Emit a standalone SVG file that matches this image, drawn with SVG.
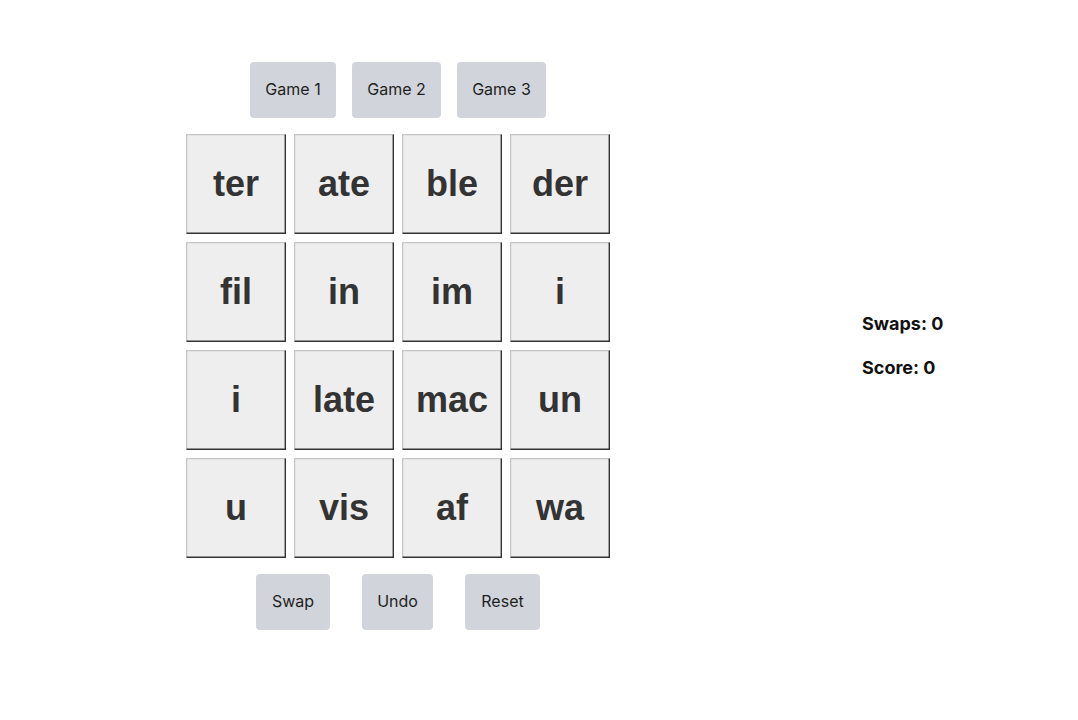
<svg xmlns="http://www.w3.org/2000/svg" width="1078" height="720" viewBox="0 0 1078 720">
<style>
.btn rect{fill:#d1d5db}
.btn text{font-family:Inter,"Liberation Sans",sans-serif;font-size:16px;fill:#1f1f1f;text-anchor:middle}
.tile text{font-family:"Liberation Sans",Arial,sans-serif;font-weight:bold;font-size:36px;fill:#333;text-anchor:middle}
.stat{font-family:Inter,"Liberation Sans",sans-serif;font-weight:bold;font-size:18px;fill:#111}
</style>
<rect width="1078" height="720" fill="#fff"/>
<g id="game1" class="btn"><rect x="250" y="62" width="86" height="56" rx="4"/><text x="293" y="95">Game 1</text></g>
<g id="game2" class="btn"><rect x="352" y="62" width="89" height="56" rx="4"/><text x="396.5" y="95">Game 2</text></g>
<g id="game3" class="btn"><rect x="457" y="62" width="89" height="56" rx="4"/><text x="501.5" y="95">Game 3</text></g>

<defs>
<g id="tileShape">
<rect x="0" y="0" width="100" height="100" fill="#eeeeee"/>
<path d="M0.6,99.5 V0.6 H99.5" stroke="#c4c4c4" stroke-width="1.2" fill="none"/>
<path d="M0.6,99.3 H99.3 V0.6" stroke="#333333" stroke-width="1.4" fill="none"/>
</g>
</defs>

<g id="t11" class="tile" transform="translate(186,134)"><use href="#tileShape"/><text x="50" y="62">ter</text></g>
<g id="t12" class="tile" transform="translate(294,134)"><use href="#tileShape"/><text x="50" y="62">ate</text></g>
<g id="t13" class="tile" transform="translate(402,134)"><use href="#tileShape"/><text x="50" y="62">ble</text></g>
<g id="t14" class="tile" transform="translate(510,134)"><use href="#tileShape"/><text x="50" y="62">der</text></g>

<g id="t21" class="tile" transform="translate(186,242)"><use href="#tileShape"/><text x="50" y="62">fil</text></g>
<g id="t22" class="tile" transform="translate(294,242)"><use href="#tileShape"/><text x="50" y="62">in</text></g>
<g id="t23" class="tile" transform="translate(402,242)"><use href="#tileShape"/><text x="50" y="62">im</text></g>
<g id="t24" class="tile" transform="translate(510,242)"><use href="#tileShape"/><text x="50" y="62">i</text></g>

<g id="t31" class="tile" transform="translate(186,350)"><use href="#tileShape"/><text x="50" y="62">i</text></g>
<g id="t32" class="tile" transform="translate(294,350)"><use href="#tileShape"/><text x="50" y="62">late</text></g>
<g id="t33" class="tile" transform="translate(402,350)"><use href="#tileShape"/><text x="50" y="62">mac</text></g>
<g id="t34" class="tile" transform="translate(510,350)"><use href="#tileShape"/><text x="50" y="62">un</text></g>

<g id="t41" class="tile" transform="translate(186,458)"><use href="#tileShape"/><text x="50" y="62">u</text></g>
<g id="t42" class="tile" transform="translate(294,458)"><use href="#tileShape"/><text x="50" y="62">vis</text></g>
<g id="t43" class="tile" transform="translate(402,458)"><use href="#tileShape"/><text x="50" y="62">af</text></g>
<g id="t44" class="tile" transform="translate(510,458)"><use href="#tileShape"/><text x="50" y="62">wa</text></g>

<g id="swap" class="btn"><rect x="256" y="574" width="74" height="56" rx="4"/><text x="293" y="607">Swap</text></g>
<g id="undo" class="btn"><rect x="362" y="574" width="71" height="56" rx="4"/><text x="397.5" y="607">Undo</text></g>
<g id="reset" class="btn"><rect x="465" y="574" width="75" height="56" rx="4"/><text x="502.5" y="607">Reset</text></g>

<g id="stats">
<text class="stat" x="862" y="330">Swaps: 0</text>
<text class="stat" x="862" y="374">Score: 0</text>
</g>
<g id="connectors"/>
</svg>
